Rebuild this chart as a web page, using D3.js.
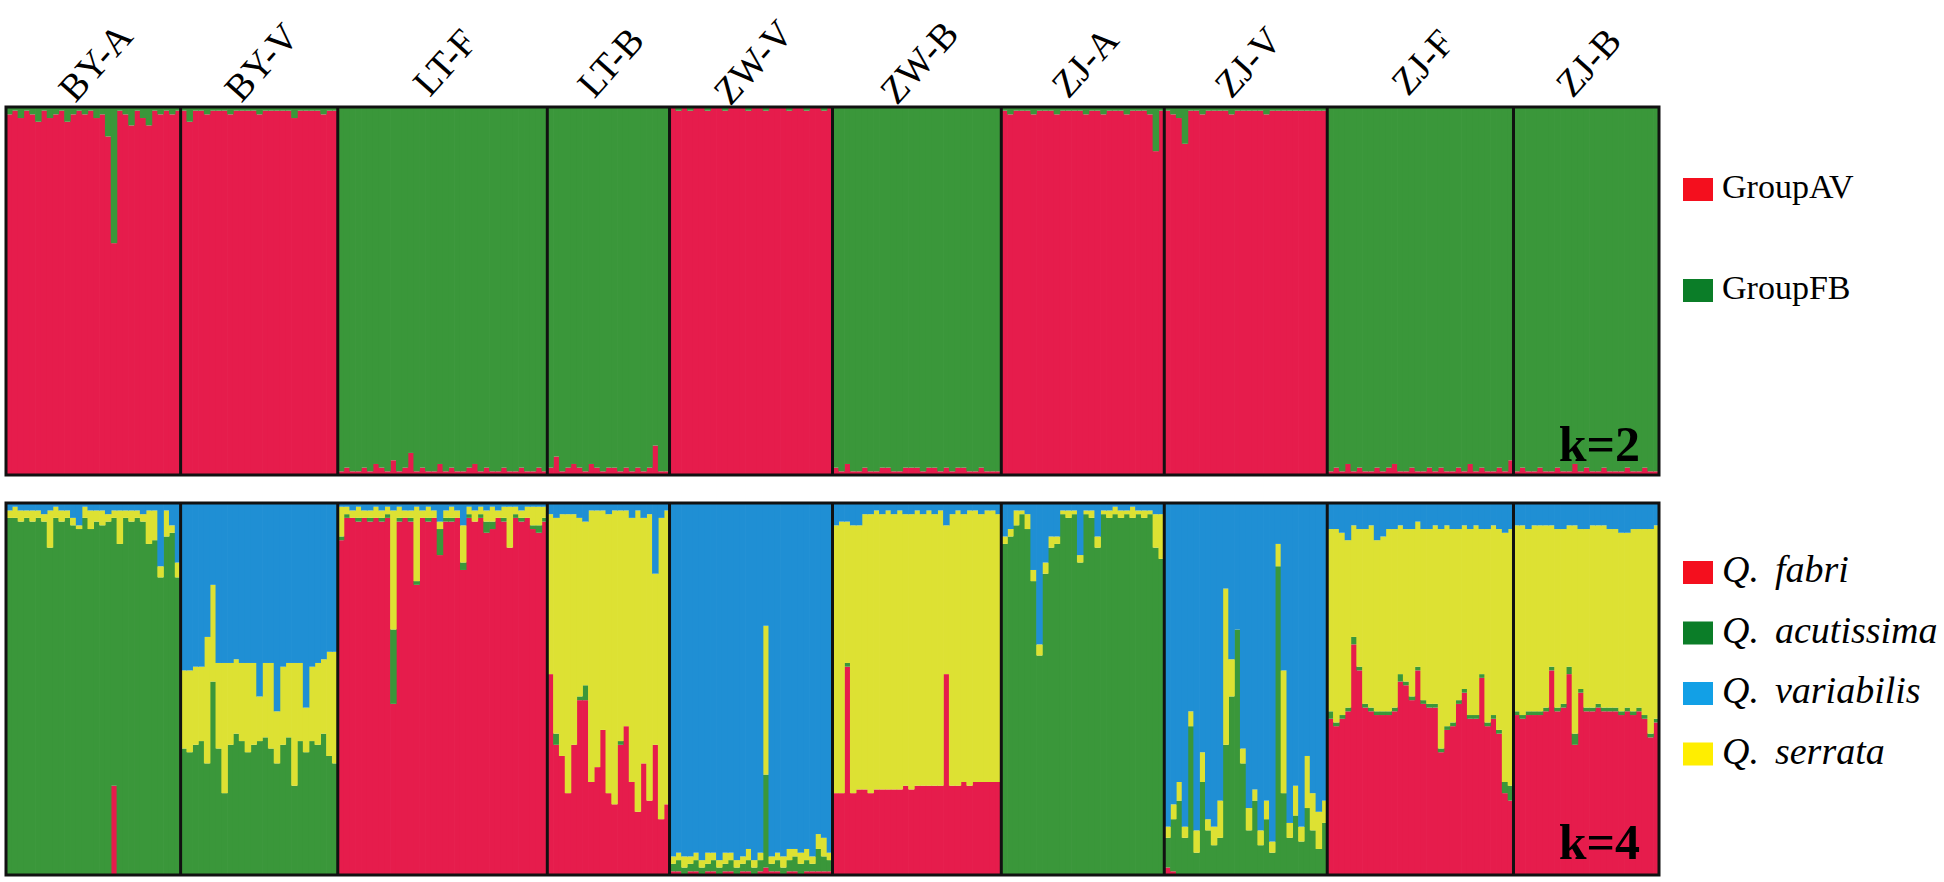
<!DOCTYPE html>
<html>
<head>
<meta charset="utf-8">
<script src="https://cdn.jsdelivr.net/npm/d3@7"></script>
<style>
  body { margin: 0; background: #fff; }
  svg { display: block; }
</style>
</head>
<body>
<svg id="chart" width="1944" height="882"></svg>
<script>
var populations = ["BY-A","BY-V","LT-F","LT-B","ZW-V","ZW-B","ZJ-A","ZJ-V","ZJ-F","ZJ-B"];
var k2Groups = ["GroupAV","GroupFB"];
var k4Groups = ["Q. fabri","Q. acutissima","Q. variabilis","Q. serrata"];

// k=2 : percent GroupAV for each individual (the rest is GroupFB)
var k2AV = [
  [98,99,97,99,98,96,99,97,98,99,96,98,99,98,99,97,98,92,63,99,98,95,99,97,95,99,98,99,98,99],
  [99,96,99,99,98,99,99,99,98,99,99,99,99,98,99,99,99,99,99,97,99,99,99,99,98,99,99],
  [1,2,1,1,2,1,3,2,1,4,1,2,6,1,2,1,1,3,1,2,1,1,2,3,1,2,1,1,2,1,1,2,1,1,2,1],
  [2,5,1,2,3,2,1,3,2,1,2,2,1,2,1,2,1,2,8,1,1],
  [100,99,100,99,100,100,99,100,100,99,100,100,100,99,100,100,99,100,100,100,99,100,100,99,100,100,99,100],
  [2,1,3,1,1,2,1,1,2,2,1,1,2,2,2,1,2,2,1,2,1,2,2,1,1,2,1,1,1],
  [99,98,99,99,99,98,99,99,99,98,99,99,99,99,98,99,99,98,99,99,99,98,99,99,99,98,88,99],
  [99,98,97,90,99,99,98,99,99,99,99,98,99,99,99,99,99,98,99,99,99,99,99,99,99,99,99,99],
  [1,2,1,3,1,2,1,1,2,1,2,3,1,1,2,1,1,2,1,2,1,1,2,1,3,1,2,1,1,2,1,4],
  [1,2,1,1,2,1,1,2,1,1,3,1,2,1,1,2,1,1,1,2,1,1,2,1,1]
];

// k=4 : [fabri, acutissima, serrata, variabilis] percent, stacked bottom to top
var k4 = [
  // BY-A
  [[0,96,2,2],[0,96,3,1],[0,95,3,2],[0,96,2,2],[0,95,3,2],[0,96,2,2],[0,95,2,3],[0,88,10,2],[0,96,3,1],[0,95,3,2],
   [0,96,2,2],[0,94,2,4],[0,93,1,6],[0,96,3,1],[0,93,5,2],[0,95,3,2],[0,94,4,2],[0,95,2,3],[24,72,2,2],[0,89,9,2],
   [0,96,2,2],[0,95,3,2],[0,96,2,2],[0,95,2,3],[0,89,9,2],[0,90,8,2],[0,80,3,17],[0,91,7,2],[0,92,2,6],[0,80,4,16]],
  // BY-V
  [[0,34,21,45],[0,33,22,45],[0,35,21,44],[0,36,20,44],[0,30,34,36],[0,52,26,22],[0,34,23,43],[0,22,35,43],[0,35,22,43],[0,38,20,42],
   [0,36,21,43],[0,33,24,43],[0,35,22,43],[0,36,12,52],[0,37,20,43],[0,34,23,43],[0,30,14,56],[0,35,21,44],[0,37,20,43],[0,24,33,43],
   [0,36,21,43],[0,33,12,55],[0,36,20,44],[0,35,22,43],[0,38,20,42],[0,32,28,40],[0,30,30,40]],
  // LT-F
  [[90,1,8,1],[96,1,2,1],[96,0,2,2],[95,1,3,1],[96,0,2,2],[95,1,2,2],[96,0,3,1],[95,1,2,2],[96,1,2,1],[46,20,32,2],
   [95,1,3,1],[96,0,2,2],[95,1,2,2],[78,1,20,1],[96,0,2,2],[95,1,3,1],[96,0,2,2],[86,7,2,5],[95,1,2,2],[95,1,3,1],
   [96,0,2,2],[82,2,10,6],[96,1,2,1],[95,0,3,2],[96,1,2,1],[92,3,3,2],[93,2,4,1],[96,0,2,2],[95,1,3,1],[88,0,11,1],
   [96,1,2,1],[95,1,2,2],[96,0,3,1],[93,1,5,1],[92,2,5,1],[95,1,3,1]],
  // LT-B
  [[54,0,43,3],[35,3,58,4],[32,0,65,3],[22,0,75,3],[35,0,62,3],[47,1,48,4],[47,4,44,5],[25,0,73,2],[29,0,69,2],[39,0,59,2],
   [22,0,75,3],[19,0,79,2],[35,1,62,2],[40,0,58,2],[25,0,71,4],[17,0,81,2],[30,0,66,4],[20,0,77,3],[35,0,46,19],[15,0,81,4],
   [19,0,79,2]],
  // ZW-V
  [[1,2,2,95],[1,3,2,94],[0,2,3,95],[1,2,2,95],[1,3,2,94],[0,2,2,96],[1,2,3,94],[1,3,2,94],[0,2,2,96],[1,2,3,94],
   [1,3,2,94],[0,2,2,96],[1,2,2,95],[1,3,3,93],[0,2,2,96],[1,3,2,94],[2,25,40,33],[1,2,2,95],[1,3,2,94],[0,2,3,95],
   [1,3,3,93],[1,4,2,93],[0,3,3,94],[1,3,3,93],[1,2,2,95],[1,6,4,89],[1,4,5,90],[1,3,2,94]],
  // ZW-B
  [[22,0,72,6],[22,0,73,5],[56,1,38,5],[22,0,72,6],[23,0,71,6],[23,0,74,3],[22,0,75,3],[23,0,75,2],[23,0,74,3],[23,0,75,2],
   [23,0,74,3],[23,0,75,2],[24,0,73,3],[23,0,74,3],[24,0,74,2],[24,0,73,3],[24,0,74,2],[24,0,73,3],[24,0,74,2],[54,0,40,6],
   [24,0,73,3],[24,0,74,2],[25,0,72,3],[24,0,74,2],[25,0,73,2],[25,0,72,3],[25,0,73,2],[25,0,73,2],[25,0,72,3]],
  // ZJ-A
  [[0,89,2,9],[0,91,2,7],[0,94,4,2],[0,97,1,2],[0,93,4,3],[0,79,3,18],[0,59,3,38],[0,81,3,16],[0,88,3,9],[0,89,2,9],
   [0,97,1,2],[0,96,2,2],[0,97,1,2],[0,84,2,14],[0,97,1,2],[0,96,2,2],[0,88,3,9],[0,97,1,2],[0,96,2,2],[0,97,2,1],
   [0,96,2,2],[0,97,1,2],[0,96,3,1],[0,97,1,2],[0,96,2,2],[0,97,1,2],[0,88,9,3],[0,85,12,3]],
  // ZJ-V
  [[2,8,3,87],[1,14,4,81],[0,20,5,75],[0,10,3,87],[0,40,4,56],[0,6,6,88],[0,25,8,67],[0,12,3,85],[0,8,5,87],[0,10,10,80],
   [0,35,42,23],[0,48,10,42],[0,66,0,34],[0,30,4,66],[0,12,6,82],[0,20,3,77],[0,8,4,88],[0,15,5,80],[0,6,3,91],[0,83,6,11],
   [0,22,33,45],[0,10,4,86],[0,16,8,76],[0,9,4,87],[0,18,14,68],[0,12,10,78],[0,7,10,83],[0,14,6,80]],
  // ZJ-F
  [[42,2,49,7],[40,1,52,7],[42,1,49,8],[44,1,45,10],[62,2,30,6],[55,1,37,7],[45,1,47,7],[44,1,49,6],[43,1,46,10],[43,1,47,9],
   [43,1,49,7],[44,1,48,7],[52,2,40,6],[51,1,41,7],[47,1,45,7],[55,1,39,5],[46,1,46,7],[45,1,47,7],[45,1,48,6],[33,1,59,7],
   [39,1,54,6],[40,1,52,7],[46,1,46,7],[49,1,44,6],[42,1,50,7],[42,1,51,6],[53,1,39,7],[40,1,52,7],[42,1,51,6],[38,1,54,7],
   [22,3,67,8],[20,4,69,7]],
  // ZJ-B
  [[43,1,50,6],[42,1,51,6],[43,1,49,7],[43,1,50,6],[43,1,50,6],[44,1,49,6],[55,1,38,6],[44,1,48,7],[45,1,47,7],[54,2,38,6],
   [35,3,56,6],[49,1,43,7],[44,1,48,7],[44,1,49,6],[45,1,48,6],[44,1,49,6],[44,1,48,7],[44,1,48,7],[43,1,48,8],[44,1,47,8],
   [43,1,49,7],[44,1,48,7],[42,1,50,7],[37,1,55,7],[41,1,52,6]]
];

var barColors = {av:"#e61c4c", fb:"#3a973a", fabri:"#e61c4c", acutissima:"#3a973a", serrata:"#dde133", variabilis:"#1f8fd4"};
var legendColorsK2 = ["#f40f1e", "#0b7d28"];
var legendColorsK4 = ["#f40f1e", "#0b7d28", "#12a0e6", "#ffee00"];

var svg = d3.select("#chart");
var left = 6, right = 1659;
var panelK2 = {top:107, bottom:475};
var panelK4 = {top:503, bottom:875};

// one row per individual
var inds = [];
populations.forEach(function(p, i){
  k2AV[i].forEach(function(v, j){
    var q = k4[i][j];
    var s = q[0] + q[1] + q[2] + q[3];
    inds.push({
      id: p + "_" + j, pop: i,
      av: v / 100, fb: 1 - v / 100,
      fabri: q[0] / s, acutissima: q[1] / s, serrata: q[2] / s, variabilis: q[3] / s
    });
  });
});

var x = d3.scaleBand()
  .domain(inds.map(function(d){ return d.id; }))
  .range([left, right])
  .padding(0);

function drawPanel(keys, panel){
  var y = d3.scaleLinear().domain([0, 1]).range([panel.bottom, panel.top]);
  var series = d3.stack().keys(keys)(inds);
  var g = svg.append("g");
  series.forEach(function(s){
    g.append("g")
      .attr("fill", barColors[s.key])
      .selectAll("rect")
      .data(s)
      .enter().append("rect")
        .attr("x", function(d){ return x(d.data.id); })
        .attr("width", x.bandwidth() + 0.7)
        .attr("y", function(d){ return y(d[1]); })
        .attr("height", function(d){ return Math.max(0, y(d[0]) - y(d[1])); });
  });

  // population dividers
  populations.forEach(function(p, i){
    if(i == 0) return;
    var xx = x(p + "_0");
    g.append("line")
      .attr("x1", xx).attr("x2", xx)
      .attr("y1", panel.top).attr("y2", panel.bottom)
      .attr("stroke", "#111")
      .attr("stroke-width", 3);
  });

  g.append("rect")
    .attr("x", left).attr("y", panel.top)
    .attr("width", right - left).attr("height", panel.bottom - panel.top)
    .attr("fill", "none")
    .attr("stroke", "#111")
    .attr("stroke-width", 3);
  return g;
}

drawPanel(["av", "fb"], panelK2);
drawPanel(["fabri", "acutissima", "serrata", "variabilis"], panelK4);

// population labels
populations.forEach(function(p, i){
  var n = k2AV[i].length;
  var cx = (x(p + "_0") + x(p + "_" + (n - 1)) + x.bandwidth()) / 2;
  svg.append("text")
    .attr("transform", "translate(" + (cx + 2) + ",62) rotate(-48)")
    .attr("text-anchor", "middle")
    .attr("dominant-baseline", "central")
    .style("font-family", "'Liberation Serif', 'DejaVu Serif', serif")
    .style("font-size", "38px")
    .style("fill", "#000")
    .text(p);
});

// k labels
svg.append("text")
  .attr("x", 1640).attr("y", 461)
  .attr("text-anchor", "end")
  .style("font-family", "'Liberation Serif', serif")
  .style("font-weight", "bold")
  .style("font-size", "50px")
  .text("k=2");

svg.append("text")
  .attr("x", 1640).attr("y", 859)
  .attr("text-anchor", "end")
  .style("font-family", "'Liberation Serif', serif")
  .style("font-weight", "bold")
  .style("font-size", "50px")
  .text("k=4");

// legends
var legend = svg.append("g");
k2Groups.forEach(function(name, i){
  var cy = 190 + i * 101;
  legend.append("rect")
    .attr("x", 1683).attr("y", cy - 12)
    .attr("width", 30).attr("height", 23)
    .attr("fill", legendColorsK2[i]);
  legend.append("text")
    .attr("x", 1722).attr("y", cy)
    .attr("dominant-baseline", "middle")
    .style("font-family", "'Liberation Serif', serif")
    .style("font-size", "34px")
    .text(name);
});

k4Groups.forEach(function(name, i){
  var cy = 573 + i * 60.5;
  legend.append("rect")
    .attr("x", 1683).attr("y", cy - 12)
    .attr("width", 30).attr("height", 23)
    .attr("fill", legendColorsK4[i]);
  var t = legend.append("text")
    .attr("x", 1722).attr("y", cy)
    .attr("dominant-baseline", "middle")
    .style("font-family", "'Liberation Serif', serif")
    .style("font-size", "38px")
    .style("font-style", "italic");
  var parts = name.split(" ");
  t.append("tspan").text(parts[0]);
  t.append("tspan").attr("dx", 16).text(parts[1]);
});
</script>
</body>
</html>
